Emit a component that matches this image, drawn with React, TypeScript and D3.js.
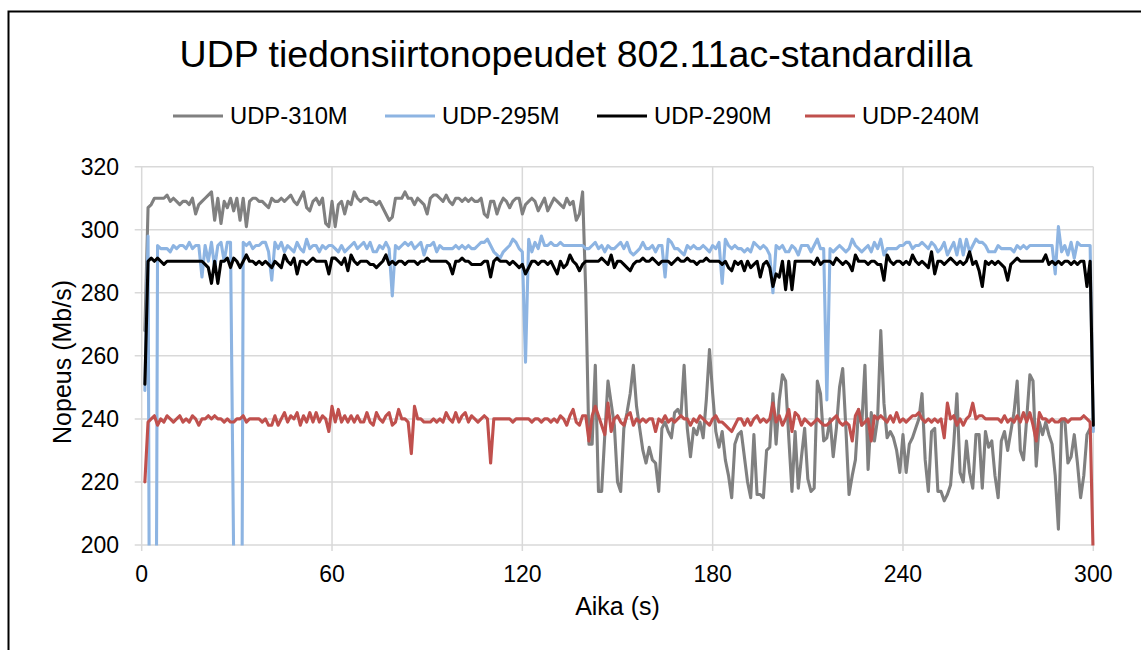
import React from "react";
import * as d3 from "d3";

const TITLE = "UDP tiedonsiirtonopeudet 802.11ac-standardilla";
const X_TITLE = "Aika (s)";
const Y_TITLE = "Nopeus (Mb/s)";
const X_TICKS = [0, 60, 120, 180, 240, 300];
const Y_TICKS = [200, 220, 240, 260, 280, 300, 320];
const SERIES_NAMES = ["UDP-310M", "UDP-295M", "UDP-290M", "UDP-240M"];
const SERIES_COLORS = ["#808080", "#8DB4E2", "#000000", "#C0504D"];

// seconds 1..300 (category positions)
const SECONDS = d3.range(1, 301);

const UDP_310M = [
  268, 307, 308, 310, 310, 310, 310, 311, 309, 310,
  309, 308, 309, 309, 308, 310, 305, 308, 309, 310,
  311, 312, 303, 310, 302, 309, 307, 310, 306, 310,
  303, 310, 301, 309, 310, 310, 309, 309, 308, 307,
  310, 309, 309, 310, 309, 310, 311, 309, 308, 310,
  312, 307, 306, 309, 310, 308, 310, 302, 301, 309,
  301, 308, 309, 305, 309, 308, 312, 310, 309, 310,
  310, 309, 309, 308, 309, 307, 305, 303, 304, 310,
  310, 310, 312, 310, 310, 308, 310, 309, 308, 305,
  310, 311, 311, 310, 309, 311, 309, 308, 310, 310,
  309, 310, 309, 310, 309, 309, 310, 305, 304, 309,
  309, 305, 308, 310, 309, 307, 309, 310, 310, 305,
  308, 309, 310, 309, 306, 308, 310, 306, 308, 310,
  309, 308, 307, 310, 308, 309, 303, 305, 312, 280,
  232, 232, 257, 217, 217, 235, 252, 245, 238, 220,
  217, 237, 242, 248, 257, 244, 237, 230, 226, 231,
  227, 226, 217, 237, 239, 236, 234, 242, 243, 241,
  257, 237, 228, 237, 235, 239, 234, 246, 262, 248,
  236, 231, 236, 227, 222, 215, 232, 235, 236, 228,
  220, 215, 235, 216, 216, 215, 230, 231, 248, 232,
  246, 254, 252, 234, 217, 236, 218, 228, 237, 221,
  217, 218, 252, 248, 233, 234, 240, 228, 237, 250,
  256, 237, 216, 222, 227, 243, 238, 257, 224, 242,
  233, 240, 268, 245, 234, 236, 234, 230, 223, 235,
  223, 232, 234, 237, 240, 248, 227, 217, 236, 237,
  217, 217, 214, 216, 219, 232, 248, 223, 220, 233,
  223, 218, 235, 235, 218, 236, 231, 233, 222, 215,
  233, 236, 230, 236, 242, 252, 230, 227, 240, 254,
  252, 225, 239, 235, 239, 235, 232, 222, 205, 239,
  240, 226, 228, 235, 226, 215, 222, 235, 237, 237,
];

const UDP_295M = [
  249, 298, 0, 0, 295, 294, 294, 294, 293, 295,
  294, 295, 295, 294, 296, 294, 295, 295, 285, 295,
  290, 296, 288, 295, 296, 290, 296, 296, 195, 0,
  0, 296, 295, 296, 294, 295, 295, 296, 296, 293,
  284, 296, 294, 296, 293, 295, 294, 293, 296, 294,
  293, 297, 294, 295, 295, 293, 295, 294, 295, 295,
  294, 293, 295, 293, 294, 295, 296, 294, 295, 296,
  294, 296, 293, 293, 295, 294, 296, 294, 279, 295,
  294, 295, 296, 295, 296, 294, 295, 296, 292, 295,
  295, 296, 293, 295, 294, 294, 294, 294, 295, 294,
  295, 294, 295, 294, 294, 295, 296, 296, 297, 295,
  293, 292, 291, 293, 294, 295, 297, 296, 294, 293,
  258, 297, 293, 296, 294, 298, 295, 295, 296, 295,
  295, 296, 295, 295, 295, 295, 295, 295, 295, 294,
  294, 295, 296, 294, 295, 293, 295, 294, 294, 295,
  296, 294, 296, 293, 292, 293, 294, 296, 294, 294,
  295, 293, 295, 295, 285, 297, 296, 294, 294, 293,
  292, 295, 294, 295, 294, 294, 295, 294, 293, 295,
  294, 296, 283, 297, 295, 294, 295, 294, 294, 293,
  294, 293, 296, 295, 294, 295, 294, 292, 280, 295,
  294, 295, 293, 293, 295, 294, 292, 295, 295, 295,
  293, 295, 297, 294, 294, 246, 294, 293, 294, 295,
  294, 293, 294, 297, 295, 294, 293, 294, 295, 293,
  296, 294, 297, 292, 294, 294, 294, 294, 295, 295,
  296, 296, 294, 295, 295, 296, 295, 294, 296, 295,
  293, 294, 296, 292, 294, 296, 292, 297, 292, 297,
  293, 295, 297, 296, 296, 295, 293, 293, 293, 295,
  294, 294, 294, 294, 293, 295, 294, 295, 294, 295,
  295, 295, 295, 295, 295, 295, 295, 286, 301, 293,
  295, 292, 296, 291, 296, 295, 295, 295, 295, 236,
];

const UDP_290M = [
  251, 290, 291, 290, 291, 290, 289, 290, 290, 290,
  290, 290, 290, 290, 290, 290, 290, 290, 290, 289,
  288, 283, 290, 283, 290, 290, 291, 288, 291, 290,
  288, 290, 292, 290, 290, 289, 290, 289, 290, 289,
  288, 290, 289, 288, 292, 290, 289, 291, 286, 290,
  290, 289, 290, 291, 290, 290, 290, 290, 286, 291,
  291, 290, 289, 291, 287, 292, 290, 289, 290, 290,
  290, 289, 289, 288, 289, 290, 292, 289, 290, 289,
  290, 290, 289, 290, 290, 290, 289, 290, 290, 291,
  290, 290, 290, 290, 290, 290, 289, 286, 290, 290,
  291, 290, 290, 289, 289, 289, 289, 290, 290, 285,
  290, 291, 290, 290, 290, 289, 290, 289, 288, 289,
  286, 288, 290, 290, 289, 290, 290, 289, 290, 288,
  286, 290, 288, 289, 292, 290, 289, 287, 289, 290,
  290, 290, 290, 290, 291, 290, 289, 292, 288, 290,
  290, 289, 288, 287, 289, 290, 290, 291, 290, 290,
  291, 290, 289, 290, 290, 290, 289, 290, 291, 290,
  290, 291, 290, 290, 289, 290, 290, 291, 290, 290,
  290, 290, 289, 290, 288, 287, 290, 289, 290, 287,
  290, 288, 289, 290, 285, 289, 290, 288, 282, 286,
  285, 290, 281, 290, 281, 290, 290, 290, 290, 290,
  290, 289, 291, 289, 290, 290, 290, 289, 291, 290,
  289, 290, 289, 287, 292, 290, 290, 290, 289, 290,
  290, 289, 289, 284, 292, 290, 289, 290, 290, 289,
  290, 289, 292, 290, 289, 290, 289, 288, 293, 286,
  290, 290, 289, 290, 291, 290, 289, 290, 289, 290,
  293, 289, 290, 287, 282, 290, 289, 290, 289, 290,
  289, 288, 284, 289, 290, 291, 290, 290, 290, 290,
  290, 290, 290, 290, 292, 289, 290, 289, 290, 289,
  290, 290, 289, 290, 289, 290, 290, 282, 290, 238,
];

const UDP_240M = [
  220, 239, 240, 241, 238, 240, 239, 241, 240, 239,
  240, 241, 239, 240, 239, 241, 240, 238, 240, 240,
  241, 240, 241, 240, 240, 239, 240, 239, 239, 240,
  240, 241, 239, 240, 240, 240, 240, 239, 240, 238,
  238, 241, 238, 240, 242, 239, 241, 240, 242, 238,
  241, 239, 242, 239, 242, 239, 241, 240, 236, 244,
  239, 243, 239, 241, 239, 241, 239, 241, 239, 239,
  242, 239, 238, 242, 240, 239, 241, 242, 238, 239,
  243, 240, 240, 239, 229, 244, 240, 240, 239, 239,
  239, 240, 239, 240, 239, 242, 240, 239, 242, 239,
  241, 242, 239, 241, 240, 239, 240, 241, 240, 226,
  240, 240, 240, 240, 240, 240, 239, 240, 240, 240,
  240, 240, 239, 240, 240, 239, 240, 240, 239, 240,
  239, 241, 240, 238, 241, 243, 239, 238, 241, 241,
  233, 241, 244, 241, 238, 235, 245, 236, 240, 241,
  239, 238, 241, 242, 238, 240, 239, 240, 239, 240,
  240, 236, 240, 239, 241, 239, 240, 239, 240, 241,
  240, 240, 238, 240, 239, 241, 240, 239, 238, 240,
  241, 239, 239, 238, 237, 236, 238, 240, 240, 238,
  240, 238, 240, 241, 239, 240, 239, 240, 245, 239,
  241, 238, 240, 243, 236, 242, 241, 238, 240, 239,
  238, 239, 240, 239, 238, 238, 239, 240, 241, 239,
  238, 239, 238, 233, 241, 243, 238, 239, 240, 233,
  241, 240, 241, 240, 239, 241, 239, 242, 239, 240,
  239, 240, 241, 241, 242, 240, 239, 240, 239, 240,
  239, 240, 234, 245, 240, 241, 238, 240, 238, 240,
  241, 245, 240, 241, 241, 240, 240, 240, 240, 240,
  239, 241, 239, 240, 239, 241, 239, 242, 239, 242,
  238, 233, 242, 240, 240, 239, 240, 239, 239, 240,
  240, 239, 240, 240, 240, 240, 241, 240, 239, 195,
];

const SERIES = [UDP_310M, UDP_295M, UDP_290M, UDP_240M];

const W = 1141;
const H = 650;
const PLOT = { left: 141.7, right: 1093.3, top: 166.7, bottom: 545 };
const FONT = "'Liberation Sans', Arial, sans-serif";
const GRID = "#D9D9D9";

export default function App() {
  const x = d3.scaleLinear().domain([0, 300]).range([PLOT.left, PLOT.right]);
  const y = d3.scaleLinear().domain([200, 320]).range([PLOT.bottom, PLOT.top]);
  const line = d3
    .line<number>()
    .x((_, i) => x(SECONDS[i]))
    .y((d) => y(d));

  const legendStarts = [173, 385, 597, 805];

  return (
    <svg
      width={W}
      height={H}
      style={{ position: "absolute", left: 0, top: 0, background: "#fff" }}
      fontFamily={FONT}
    >
      <defs>
        <clipPath id="plotClip">
          <rect
            x={PLOT.left - 3}
            y={PLOT.top - 3}
            width={PLOT.right - PLOT.left + 6}
            height={PLOT.bottom - PLOT.top + 3.5}
          />
        </clipPath>
      </defs>
      <rect x={0} y={0} width={W} height={H} fill="#fff" />
      <rect x={8.5} y={11.5} width={1300} height={800} fill="none" stroke="#000" strokeWidth={2} />

      <text x={576} y={67} textAnchor="middle" fontSize={37.5} fill="#000">
        {TITLE}
      </text>

      {/* legend */}
      {SERIES_NAMES.map((name, i) => (
        <g key={name}>
          <line
            x1={legendStarts[i]}
            x2={legendStarts[i] + 50}
            y1={116}
            y2={116}
            stroke={SERIES_COLORS[i]}
            strokeWidth={3.2}
          />
          <text x={legendStarts[i] + 57} y={124} fontSize={23.8} fill="#000">
            {name}
          </text>
        </g>
      ))}

      {/* gridlines */}
      {Y_TICKS.map((t) => (
        <line key={"hy" + t} x1={PLOT.left - 7} x2={PLOT.right} y1={y(t)} y2={y(t)} stroke={GRID} strokeWidth={1.5} />
      ))}
      {X_TICKS.map((t) => (
        <line key={"vx" + t} x1={x(t)} x2={x(t)} y1={PLOT.top} y2={PLOT.bottom + 6} stroke={GRID} strokeWidth={1.5} />
      ))}

      {/* tick labels */}
      {Y_TICKS.map((t) => (
        <text key={"ly" + t} x={119} y={y(t) + 8.3} textAnchor="end" fontSize={23} fill="#000">
          {t}
        </text>
      ))}
      {X_TICKS.map((t) => (
        <text key={"lx" + t} x={x(t)} y={582} textAnchor="middle" fontSize={23} fill="#000">
          {t}
        </text>
      ))}

      {/* axis titles */}
      <text x={(PLOT.left + PLOT.right) / 2} y={615} textAnchor="middle" fontSize={25} fill="#000">
        {X_TITLE}
      </text>
      <text
        transform={`translate(71, ${362}) rotate(-90)`}
        textAnchor="middle"
        fontSize={25}
        fill="#000"
      >
        {Y_TITLE}
      </text>

      {/* series */}
      <g clipPath="url(#plotClip)">
        {SERIES.map((s, i) => (
          <path
            key={SERIES_NAMES[i]}
            d={line(s) || ""}
            fill="none"
            stroke={SERIES_COLORS[i]}
            strokeWidth={3.1}
            strokeLinejoin="round"
            strokeLinecap="round"
          />
        ))}
      </g>
    </svg>
  );
}
